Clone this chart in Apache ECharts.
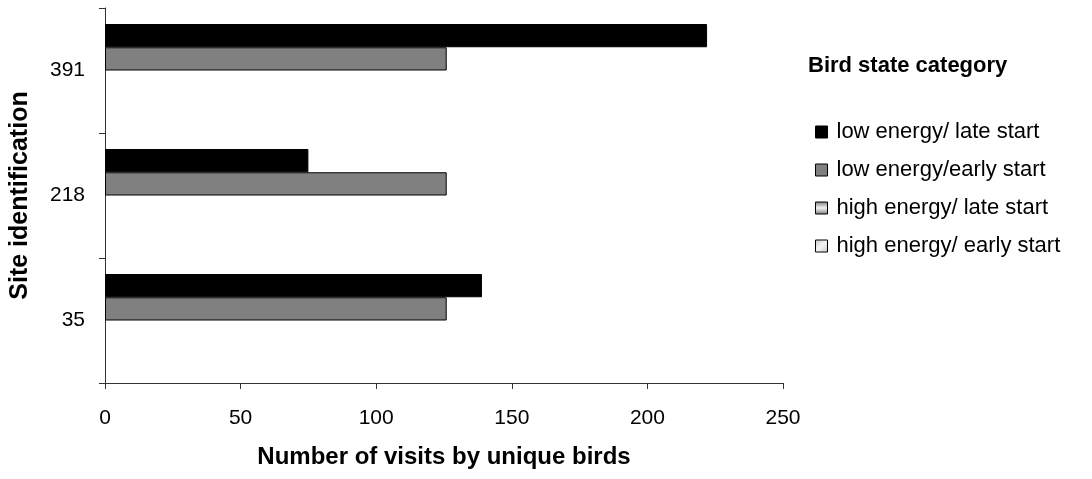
<!DOCTYPE html>
<html>
<head>
<meta charset="utf-8">
<script src="https://cdn.jsdelivr.net/npm/echarts@6/dist/echarts.min.js"></script>
<style>
  html, body { margin: 0; padding: 0; background: #fff; }
  #chart { width: 1092px; height: 479px; }
</style>
</head>
<body>
<div id="chart"></div>
<script>
// Sites, bottom to top on the category axis
const sites = ['35', '218', '391'];

// Visits by unique birds for each bird state category, per site
const seriesNames = [
  'low energy/ late start',
  'low energy/early start',
  'high energy/ late start',
  'high energy/ early start'
];
const lowEnergyLateStart   = [139, 75, 222];
const lowEnergyEarlyStart  = [126, 126, 126];
const highEnergyLateStart  = [0, 0, 0];
const highEnergyEarlyStart = [0, 0, 0];

const xTicks = [0, 50, 100, 150, 200, 250];

const values = [lowEnergyLateStart, lowEnergyEarlyStart, highEnergyLateStart, highEnergyEarlyStart];

// Fills: solid black, solid grey, banded grey, light hatched grey
const fills = [
  '#000000',
  '#808080',
  new echarts.graphic.LinearGradient(0, 0, 0, 1, [
    { offset: 0, color: '#7a7a7a' },
    { offset: 0.5, color: '#f2f2f2' },
    { offset: 1, color: '#7a7a7a' }
  ]),
  new echarts.graphic.LinearGradient(0, 0, 1, 1, [
    { offset: 0, color: '#c8c8c8' },
    { offset: 0.5, color: '#f4f4f4' },
    { offset: 1, color: '#c8c8c8' }
  ])
];

const FONT = '"Liberation Sans", Arial, sans-serif';

const chart = echarts.init(document.getElementById('chart'), null, { renderer: 'canvas' });

chart.setOption({
  animation: false,
  backgroundColor: '#ffffff',
  title: {
    text: 'Bird state category',
    left: 803,
    top: 50,
    textStyle: { fontFamily: FONT, fontSize: 22, fontWeight: 'bold', color: '#000' }
  },
  legend: {
    orient: 'vertical',
    left: 810,
    top: 116,
    itemWidth: 12,
    itemHeight: 12,
    itemGap: 16,
    icon: 'rect',
    data: seriesNames,
    itemStyle: { borderColor: '#000', borderWidth: 1 },
    textStyle: { fontFamily: FONT, fontSize: 22, color: '#000', padding: [0, 0, 0, 4] }
  },
  grid: { left: 105, right: 309, top: 8, bottom: 96, containLabel: false, outerBoundsMode: 'none' },
  xAxis: {
    type: 'value',
    min: xTicks[0],
    max: xTicks[xTicks.length - 1],
    interval: 50,
    name: 'Number of visits by unique birds',
    nameLocation: 'middle',
    nameGap: 62,
    nameTextStyle: { fontFamily: FONT, fontSize: 24, fontWeight: 'bold', color: '#000' },
    axisLine: { show: true, lineStyle: { color: '#333', width: 1 } },
    axisTick: { show: true, length: 6, lineStyle: { color: '#333' } },
    axisLabel: { margin: 25, fontFamily: FONT, fontSize: 21, color: '#000' },
    splitLine: { show: false }
  },
  yAxis: {
    type: 'category',
    data: sites,
    name: 'Site identification',
    nameLocation: 'middle',
    nameRotate: 90,
    nameGap: 72,
    nameTextStyle: { fontFamily: FONT, fontSize: 25, fontWeight: 'bold', color: '#000' },
    axisLine: { show: true, lineStyle: { color: '#333', width: 1 } },
    axisTick: { show: true, length: 6, lineStyle: { color: '#333' } },
    axisLabel: { margin: 20, fontFamily: FONT, fontSize: 21, color: '#000' }
  },
  series: seriesNames.map((name, i) => ({
    name: name,
    type: 'bar',
    data: values[i],
    barGap: '0%',
    barCategoryGap: '25.6%',
    itemStyle: { color: fills[i], borderColor: '#000', borderWidth: i < 2 ? 1 : 0 }
  }))
});
</script>
</body>
</html>
